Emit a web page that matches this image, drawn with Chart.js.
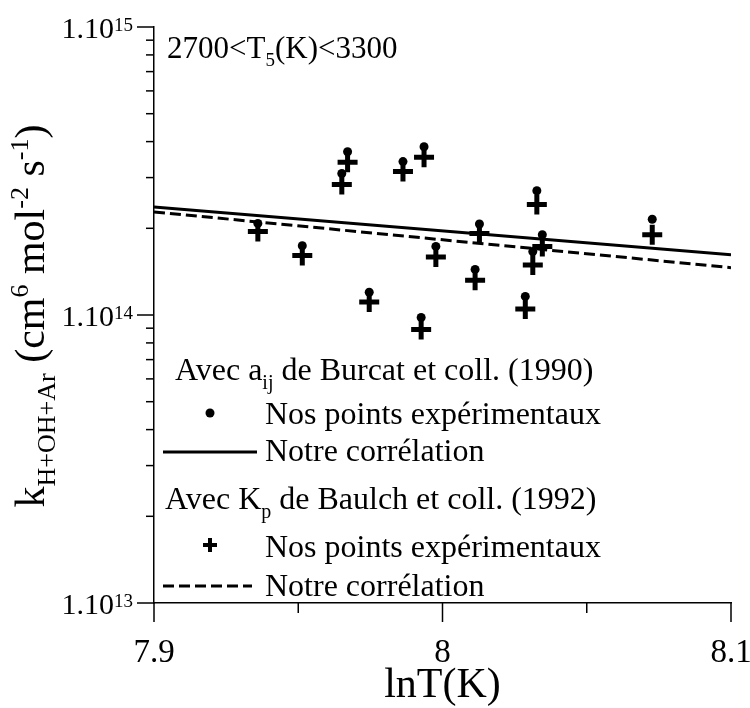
<!DOCTYPE html>
<html>
<head>
<meta charset="utf-8">
<script src="https://cdn.jsdelivr.net/npm/chart.js@4"></script>
<style>
  body { margin: 0; background: #fff; }
  #chart-box { width: 750px; height: 708px; }
</style>
</head>
<body>
<div id="chart-box"><canvas id="k-chart" width="750" height="708"></canvas></div>
<script>
// lnT of each experiment (shared by both series)
const lnT = [7.9360, 7.9514, 7.9651, 7.9671, 7.9746, 7.9863, 7.9926, 7.9936, 7.9977, 8.0113, 8.0128, 8.0287, 8.0313, 8.0327, 8.0346, 8.0727];
// k with aij from Burcat et coll. (dots)
const kBurcat = [2.08e14, 1.74e14, 3.10e14, 3.69e14, 1.20e14, 3.41e14, 9.8e13, 3.84e14, 1.73e14, 1.44e14, 2.07e14, 1.16e14, 1.66e14, 2.70e14, 1.90e14, 2.15e14];
// k with Kp from Baulch et coll. (crosses)
const kBaulch = [1.95e14, 1.61e14, 2.84e14, 3.39e14, 1.11e14, 3.15e14, 8.9e13, 3.53e14, 1.59e14, 1.32e14, 1.92e14, 1.05e14, 1.49e14, 2.42e14, 1.73e14, 1.90e14];
// correlations (straight lines in lnT / log k)
const corrLnT = [7.9, 8.1];
const corrBurcat = [2.37e14, 1.62e14];
const corrBaulch = [2.28e14, 1.46e14];

// axis ticks
const xTicks = [7.9, 8, 8.1];
const xTickLabels = ['7.9', '8', '8.1'];
const xMinorTicks = [7.95, 8.05];
const yTicks = [1e13, 1e14, 1e15];
const yTickExponents = ['13', '14', '15'];

const SERIF = '"Liberation Serif", "Times New Roman", serif';

/* draws a list of [text, kind] runs, kind = n | sub | sup */
function runsWidth(ctx, runs, size) {
    let w = 0;
    runs.forEach(([t, kind]) => {
        ctx.font = (kind === 'n' ? size : Math.round(size * 0.62)) + 'px ' + SERIF;
        w += ctx.measureText(t).width;
    });
    return w;
}

function drawRuns(ctx, runs, x, y, size, align) {
    let cx = x;
    const total = runsWidth(ctx, runs, size);
    if (align === 'center') cx = x - total / 2;
    if (align === 'right') cx = x - total;
    ctx.textAlign = 'left';
    ctx.textBaseline = 'alphabetic';
    runs.forEach(([t, kind]) => {
        let fs = size, dy = 0;
        if (kind === 'sub') { fs = Math.round(size * 0.62); dy = size * 0.27; }
        if (kind === 'sup') { fs = Math.round(size * 0.62); dy = -size * 0.38; }
        ctx.font = fs + 'px ' + SERIF;
        ctx.fillText(t, cx, y + dy);
        cx += ctx.measureText(t).width;
    });
}

const decorPlugin = {
    id: 'decor',
    afterDraw(chart) {
        const ctx = chart.ctx;
        const xs = chart.scales.x;
        const ys = chart.scales.y;
        const area = chart.chartArea;
        ctx.save();
        ctx.fillStyle = '#000';
        ctx.strokeStyle = '#000';
        ctx.lineWidth = 1.5;

        // x ticks, outward
        xTicks.forEach((v, i) => {
            const px = xs.getPixelForValue(v);
            ctx.beginPath();
            ctx.moveTo(px, area.bottom);
            ctx.lineTo(px, area.bottom + 19);
            ctx.stroke();
            drawRuns(ctx, [[xTickLabels[i], 'n']], px, 662, 33, 'center');
        });
        xMinorTicks.forEach(v => {
            const px = xs.getPixelForValue(v);
            ctx.beginPath();
            ctx.moveTo(px, area.bottom);
            ctx.lineTo(px, area.bottom + 10);
            ctx.stroke();
        });

        // y ticks, outward (log minor ticks 2..9)
        yTicks.forEach((v, i) => {
            const py = ys.getPixelForValue(v);
            ctx.beginPath();
            ctx.moveTo(area.left, py);
            ctx.lineTo(area.left - 17, py);
            ctx.stroke();
            const expW = runsWidth(ctx, [[yTickExponents[i], 'sup']], 30);
            ctx.font = '30px ' + SERIF;
            ctx.textAlign = 'right';
            ctx.fillText('1.10', 133 - expW, py + 11);
            ctx.font = Math.round(30 * 0.62) + 'px ' + SERIF;
            ctx.textAlign = 'left';
            ctx.fillText(yTickExponents[i], 133 - expW, py + 4);
            if (i < yTicks.length - 1) {
                for (let m = 2; m <= 9; m++) {
                    const my = ys.getPixelForValue(v * m);
                    ctx.beginPath();
                    ctx.moveTo(area.left, my);
                    ctx.lineTo(area.left - 8, my);
                    ctx.stroke();
                }
            }
        });

        // axis titles
        drawRuns(ctx, [['lnT(K)', 'n']], (area.left + area.right) / 2, 697, 42, 'center');
        ctx.save();
        ctx.translate(44, (area.top + area.bottom) / 2 + 1);
        ctx.rotate(-Math.PI / 2);
        drawRuns(ctx, [['k', 'n'], ['H+OH+Ar', 'sub'], [' (cm', 'n'], ['6', 'sup'], [' mol', 'n'],
            ['-2', 'sup'], [' s', 'n'], ['-1', 'sup'], [')', 'n']], 0, 0, 42, 'center');
        ctx.restore();

        // temperature range note
        drawRuns(ctx, [['2700<T', 'n'], ['5', 'sub'], ['(K)<3300', 'n']], 167, 58, 31, 'left');

        // legend
        drawRuns(ctx, [['Avec a', 'n'], ['ij', 'sub'], [' de Burcat et coll. (1990)', 'n']], 175, 380, 32, 'left');
        ctx.beginPath();
        ctx.arc(210, 413, 4.5, 0, Math.PI * 2);
        ctx.fill();
        drawRuns(ctx, [['Nos points expérimentaux', 'n']], 265, 424, 32, 'left');
        ctx.lineWidth = 3;
        ctx.beginPath();
        ctx.moveTo(163, 452);
        ctx.lineTo(257, 452);
        ctx.stroke();
        drawRuns(ctx, [['Notre corrélation', 'n']], 265, 461, 32, 'left');

        drawRuns(ctx, [['Avec K', 'n'], ['p', 'sub'], [' de Baulch et coll. (1992)', 'n']], 165, 509, 32, 'left');
        ctx.lineWidth = 4;
        ctx.beginPath();
        ctx.moveTo(203, 545);
        ctx.lineTo(217, 545);
        ctx.moveTo(210, 538);
        ctx.lineTo(210, 552);
        ctx.stroke();
        drawRuns(ctx, [['Nos points expérimentaux', 'n']], 265, 557, 32, 'left');
        ctx.lineWidth = 3;
        ctx.setLineDash([11, 5]);
        ctx.beginPath();
        ctx.moveTo(163, 586);
        ctx.lineTo(252, 586);
        ctx.stroke();
        ctx.setLineDash([]);
        drawRuns(ctx, [['Notre corrélation', 'n']], 265, 596, 32, 'left');

        ctx.restore();
    }
};

const axisStyle = {
    ticks: { display: false },
    grid: { display: false, drawTicks: false },
    border: { display: true, color: '#000', width: 1.5 }
};

new Chart(document.getElementById('k-chart'), {
    type: 'scatter',
    data: {
        datasets: [
            {
                label: 'Burcat points',
                data: lnT.map((x, i) => ({ x: x, y: kBurcat[i] })),
                pointStyle: 'circle',
                pointRadius: 4.5,
                backgroundColor: '#000',
                borderColor: '#000',
                borderWidth: 0,
                order: 0
            },
            {
                label: 'Baulch points',
                data: lnT.map((x, i) => ({ x: x, y: kBaulch[i] })),
                pointStyle: 'cross',
                pointRadius: 10,
                borderColor: '#000',
                borderWidth: 5,
                order: 1
            },
            {
                label: 'Burcat correlation',
                data: corrLnT.map((x, i) => ({ x: x, y: corrBurcat[i] })),
                showLine: true,
                pointRadius: 0,
                borderColor: '#000',
                borderWidth: 3,
                order: 2
            },
            {
                label: 'Baulch correlation',
                data: corrLnT.map((x, i) => ({ x: x, y: corrBaulch[i] })),
                showLine: true,
                pointRadius: 0,
                borderColor: '#000',
                borderWidth: 3,
                borderDash: [11, 5],
                order: 3
            }
        ]
    },
    options: {
        responsive: false,
        animation: false,
        layout: { padding: { left: 154, top: 27, right: 19, bottom: 105 } },
        plugins: { legend: { display: false }, tooltip: { enabled: false } },
        scales: {
            x: Object.assign({ type: 'linear', min: 7.9, max: 8.1 }, axisStyle),
            y: Object.assign({ type: 'logarithmic', min: 1e13, max: 1e15 }, axisStyle)
        }
    },
    plugins: [decorPlugin]
});
</script>
</body>
</html>
